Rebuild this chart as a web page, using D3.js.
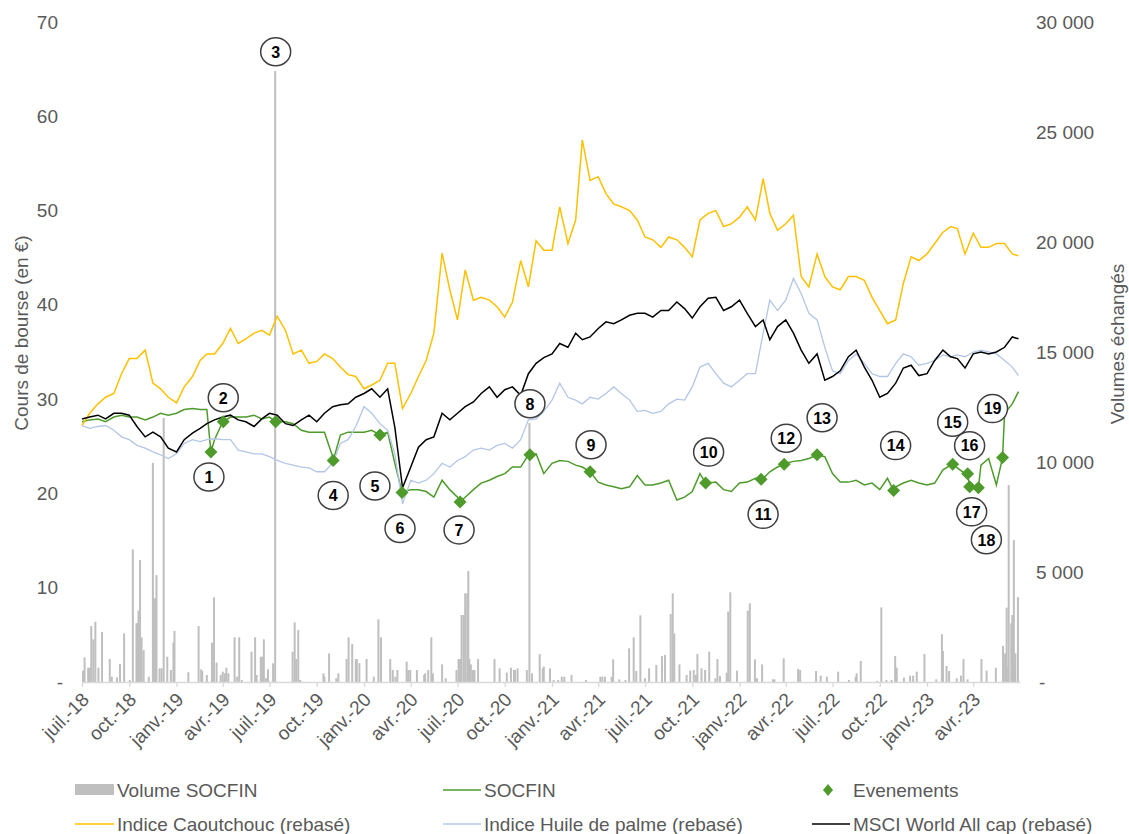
<!DOCTYPE html>
<html><head><meta charset="utf-8">
<script src="https://cdn.jsdelivr.net/npm/d3@7"></script>
<style>
body{margin:0;background:#fff;}
text{font-family:Arial,"Liberation Sans",sans-serif;}
</style>
</head><body>
<svg id="chart" width="1129" height="834"></svg>
<script>
// ---------- DATA ----------
// observation dates: 1st and 16th of each month, July 2018 -> June 2023, plus last quotation
const obsDates = d3.range(120).map(i => new Date(2018, 6 + Math.floor(i / 2), i % 2 ? 16 : 1)).concat([new Date(2023, 5, 28)]);

const socfin = [
  27.6, 27.8, 27.9, 27.6, 28.1, 28.3, 28.1, 28.1, 27.8, 28.1, 28.5, 28.3,
  28.5, 28.9, 29.0, 28.9, 28.9, 25.7, 27.6, 28.1, 28.1, 28.1, 28.3, 27.9,
  28.1, 27.6, 27.6, 27.4, 26.7, 26.5, 26.5, 26.5, 23.9, 26.2, 26.5, 26.5,
  26.5, 26.7, 26.2, 26.5, 23.2, 20.2, 20.4, 20.4, 20.2, 19.6, 21.4, 20.4,
  19.6, 19.6, 20.4, 21.1, 21.4, 21.8, 22.1, 22.8, 22.8, 24.1, 24.2, 22.1,
  23.2, 23.5, 23.4, 23.0, 22.8, 22.3, 21.2, 20.9, 20.7, 20.5, 20.7, 21.9,
  20.9, 20.9, 21.1, 21.4, 19.3, 19.6, 20.2, 22.1, 21.1, 21.2, 20.4, 20.2,
  21.1, 21.2, 21.6, 21.6, 22.3, 22.8, 23.2, 23.4, 23.5, 23.7, 24.1, 23.9,
  22.1, 21.2, 21.2, 21.4, 20.9, 21.1, 20.4, 21.6, 20.7, 21.1, 21.4, 21.1,
  20.9, 21.1, 22.5, 23.0, 22.7, 22.1, 20.7, 23.0, 23.7, 20.9, 28.5, 29.5,
  30.8
];

const caoutchouc = [
  27.2, 28.5, 29.5, 30.2, 30.6, 32.7, 34.3, 34.3, 35.2, 31.7, 31.1, 30.2,
  29.6, 31.3, 32.4, 34.1, 34.8, 34.8, 35.9, 37.5, 35.9, 36.4, 37.0, 37.3,
  36.8, 38.8, 37.3, 34.8, 35.2, 33.8, 34.0, 34.8, 34.3, 33.4, 32.6, 32.4,
  31.1, 31.5, 32.0, 33.8, 33.8, 29.0, 30.6, 32.4, 34.1, 37.0, 45.5, 41.6,
  38.4, 43.7, 40.5, 40.8, 40.5, 39.8, 38.7, 40.3, 44.7, 41.9, 46.8, 45.8,
  45.8, 50.4, 46.5, 49.0, 57.5, 53.2, 53.6, 51.8, 50.7, 50.4, 50.0, 49.0,
  47.2, 46.9, 46.1, 47.2, 46.9, 46.1, 45.1, 49.0, 49.7, 50.0, 48.3, 48.6,
  49.3, 50.4, 49.0, 53.4, 49.7, 47.9, 48.6, 49.5, 43.0, 41.9, 45.4, 43.0,
  41.9, 41.6, 43.0, 43.0, 42.6, 40.8, 39.4, 38.0, 38.4, 42.3, 45.1, 44.7,
  45.4, 46.5, 47.7, 48.3, 48.1, 45.4, 47.6, 46.1, 46.1, 46.5, 46.5, 45.4,
  45.2
];

const huilePalme = [
  27.2, 26.9, 27.1, 27.2, 26.7, 26.0, 25.7, 25.1, 24.8, 24.4, 24.1, 23.7,
  24.2, 25.3, 25.7, 25.5, 25.7, 25.8, 25.7, 25.7, 24.6, 24.4, 24.2, 24.2,
  23.9, 23.5, 23.2, 23.0, 22.8, 22.7, 22.3, 22.3, 23.2, 25.3, 25.7, 27.1,
  29.2, 28.5, 27.4, 26.7, 24.2, 18.9, 21.4, 21.1, 21.4, 22.1, 23.2, 22.8,
  23.5, 23.9, 24.6, 24.8, 24.6, 25.1, 25.3, 24.8, 25.7, 27.8, 27.9, 28.7,
  29.9, 31.7, 30.2, 29.9, 29.5, 30.2, 30.0, 30.6, 31.3, 30.6, 29.9, 28.7,
  28.8, 28.5, 28.7, 29.5, 30.0, 29.9, 31.3, 33.4, 33.8, 32.7, 31.7, 31.3,
  32.0, 32.7, 32.7, 37.0, 40.5, 39.4, 40.5, 42.8, 41.2, 39.1, 38.4, 35.5,
  33.0, 32.7, 34.1, 34.8, 33.8, 32.7, 32.4, 32.4, 33.8, 34.8, 34.5, 33.6,
  33.8, 34.1, 34.7, 34.5, 34.7, 34.5, 35.0, 35.2, 35.0, 34.8, 34.1, 33.4,
  32.5
];

const msciWorld = [
  27.9, 28.1, 28.3, 27.9, 28.5, 28.5, 28.3, 27.1, 26.0, 26.5, 26.0, 24.8,
  24.4, 25.7, 26.4, 26.9, 27.4, 27.8, 28.1, 28.3, 27.8, 27.6, 27.1, 27.9,
  28.5, 28.3, 27.4, 27.2, 27.8, 28.3, 27.6, 28.5, 29.2, 29.4, 29.5, 30.2,
  30.6, 31.1, 30.2, 31.1, 27.0, 20.6, 22.8, 24.9, 25.7, 26.0, 28.5, 27.8,
  28.5, 29.2, 29.7, 30.6, 31.3, 30.2, 31.0, 31.3, 30.4, 32.7, 33.8, 34.4,
  34.8, 35.9, 35.5, 37.0, 36.3, 36.6, 37.5, 38.2, 38.0, 38.4, 38.9, 39.1,
  39.1, 38.7, 39.4, 39.4, 40.3, 39.6, 38.6, 39.8, 40.7, 40.8, 39.4, 39.8,
  40.5, 39.1, 37.7, 38.4, 36.3, 37.7, 38.4, 37.0, 35.2, 33.8, 34.8, 32.0,
  32.4, 33.0, 34.5, 35.2, 33.4, 32.0, 30.2, 30.6, 31.7, 33.3, 33.6, 32.5,
  32.7, 34.1, 35.2, 34.5, 34.3, 33.3, 34.8, 35.0, 34.8, 35.0, 35.5, 36.6,
  36.4
];

const eventLabels = [1,2,3,4,5,6,7,8,9,10,11,12,13,14,15,16,17,18,19];
const eventDates = ["2019-03-09","2019-04-02","2019-07-13","2019-11-02","2020-02-01","2020-03-15","2020-07-06",
  "2020-11-19","2021-03-16","2021-10-27","2022-02-12","2022-03-29","2022-06-01","2022-10-28","2023-02-20",
  "2023-03-21","2023-03-25","2023-04-11","2023-05-28"];
const eventValues = [24.4,27.6,27.6,23.5,26.2,20.1,19.1,24.1,22.3,21.1,21.5,23.1,24.1,20.3,23.1,22.1,20.7,20.6,23.8];

const volumeSOCFIN = [
  ["2018-07-03",515],["2018-07-06",1120],["2018-07-13",650],["2018-07-16",650],["2018-07-19",2545],["2018-07-23",1940],
  ["2018-07-27",2740],["2018-08-02",650],["2018-08-09",2270],["2018-08-24",1045],["2018-08-28",240],["2018-09-07",210],
  ["2018-09-13",820],["2018-09-21",2210],["2018-10-02",90],["2018-10-08",6030],["2018-10-15",2670],["2018-10-17",2670],
  ["2018-10-19",3240],["2018-10-22",5545],["2018-10-25",2030],["2018-10-29",1450],["2018-11-08",240],["2018-11-16",9955],
  ["2018-11-19",3800],["2018-11-21",3800],["2018-11-23",4860],["2018-11-29",620],["2018-12-03",620],["2018-12-07",12000],
  ["2018-12-14",1150],["2018-12-21",545],["2018-12-26",1790],["2018-12-28",2320],
  ["2019-01-24",440],["2019-02-13",2545],["2019-02-18",575],["2019-02-20",500],["2019-03-01",320],["2019-03-11",1790],
  ["2019-03-13",770],["2019-03-15",3850],["2019-03-20",880],["2019-03-28",320],["2019-04-01",470],["2019-04-05",395],
  ["2019-04-08",650],["2019-04-12",395],["2019-04-24",2030],["2019-04-29",240],["2019-05-03",2030],["2019-05-08",90],
  ["2019-05-27",1380],["2019-06-03",2030],["2019-06-06",320],["2019-06-14",1150],["2019-06-17",1150],["2019-06-20",1940],
  ["2019-06-24",170],["2019-06-28",575],["2019-07-08",850],["2019-07-12",27770],["2019-08-15",1380],["2019-08-19",2710],
  ["2019-08-22",1045],["2019-08-26",2360],["2019-08-30",90],["2019-10-14",395],["2019-10-16",240],["2019-10-25",1300],
  ["2019-11-08",170],["2019-11-12",395],["2019-11-28",1045],["2019-12-02",2030],["2019-12-09",1730],["2019-12-16",1045],
  ["2019-12-18",1045],["2019-12-23",850],
  ["2020-01-06",1045],["2020-01-20",240],["2020-01-29",2850],["2020-02-03",2030],["2020-02-21",1045],["2020-02-26",545],
  ["2020-03-02",240],["2020-03-06",545],["2020-03-24",925],["2020-03-27",545],["2020-03-31",545],["2020-04-13",545],
  ["2020-04-27",320],["2020-04-29",395],["2020-05-05",545],["2020-05-11",2030],["2020-05-14",395],["2020-06-01",800],
  ["2020-06-08",170],["2020-06-29",545],["2020-07-03",1045],["2020-07-06",1045],["2020-07-09",3045],["2020-07-13",3045],
  ["2020-07-16",4030],["2020-07-20",4030],["2020-07-22",5045],["2020-07-24",1045],["2020-07-27",800],["2020-07-31",545],
  ["2020-08-03",545],["2020-08-10",1045],["2020-09-11",1045],["2020-09-21",620],["2020-10-05",425],["2020-10-13",650],
  ["2020-10-19",545],["2020-10-21",545],["2020-10-26",620],["2020-11-13",545],["2020-11-18",11770],["2020-11-23",395],
  ["2020-12-08",1270],["2020-12-14",620],["2020-12-16",700],["2020-12-28",620],
  ["2021-01-04",90],["2021-01-13",90],["2021-01-20",240],["2021-01-25",240],["2021-02-08",320],["2021-03-08",90],
  ["2021-04-05",240],["2021-04-09",240],["2021-04-14",240],["2021-04-27",240],["2021-04-30",1030],["2021-05-12",120],
  ["2021-05-24",90],["2021-05-31",1530],["2021-06-09",2030],["2021-06-14",500],["2021-06-22",3030],["2021-07-01",170],
  ["2021-07-09",620],["2021-07-23",770],["2021-08-03",1180],["2021-08-09",1230],["2021-08-20",3090],["2021-08-24",4030],
  ["2021-08-27",2210],["2021-09-06",800],["2021-09-20",320],["2021-09-27",515],["2021-10-04",545],["2021-10-08",320],
  ["2021-10-11",1270],["2021-10-19",620],["2021-10-26",545],["2021-11-03",1380],["2021-11-15",170],["2021-11-19",1045],
  ["2021-11-24",270],["2021-12-07",425],["2021-12-10",3200],["2021-12-14",4075],["2021-12-27",515],
  ["2022-01-17",3240],["2022-01-21",3575],["2022-01-31",1030],["2022-02-04",170],["2022-02-14",800],["2022-03-07",120],
  ["2022-03-10",120],["2022-03-28",1075],["2022-04-25",590],["2022-04-29",545],["2022-05-30",500],["2022-06-08",290],
  ["2022-06-20",240],["2022-07-12",470],["2022-08-02",90],["2022-08-15",240],["2022-08-17",395],["2022-08-25",955],
  ["2022-09-26",50],["2022-10-04",3390],["2022-10-14",90],["2022-10-24",90],["2022-10-31",1180],["2022-11-03",650],
  ["2022-11-17",200],["2022-11-29",290],["2022-12-05",290],["2022-12-12",470],["2022-12-27",1270],
  ["2023-01-19",120],["2023-01-30",2170],["2023-02-01",1410],["2023-02-08",730],["2023-02-13",500],["2023-02-28",170],
  ["2023-03-08",290],["2023-03-13",1045],["2023-03-21",120],["2023-04-17",1045],["2023-04-27",515],["2023-05-15",650],
  ["2023-05-29",1640],["2023-06-02",1300],["2023-06-05",3380],["2023-06-08",700],["2023-06-09",8950],["2023-06-14",2670],
  ["2023-06-16",3045],["2023-06-19",6450],["2023-06-21",1000],["2023-06-22",1300],["2023-06-27",3860]
];

const leftTicks = [0,10,20,30,40,50,60,70];
const rightTicks = [0,5000,10000,15000,20000,25000,30000];
const moisFr = ["janv.","févr.","mars","avr.","mai","juin","juil.","août","sept.","oct.","nov.","déc."];

// label placement (pixel offsets of each event bubble relative to its marker)
const labelOffsets = [[-2,25],[0,-24],[0,-370],[0,35],[-5,51],[-2,36],[-1,28],[0,-51],[1,-27],[3,-31],
  [2,35],[2,-26],[5,-37],[2,-45],[0,-42],[2,-28],[2,25],[8,52],[-10,-49]];

// ---------- CHART ----------
const svg = d3.select("#chart");
const parse = d3.timeParse("%Y-%m-%d");
const x = d3.scaleTime().domain([new Date(2018,6,1), new Date(2023,6,1)]).range([82,1020]);
const yL = d3.scaleLinear().domain([0,70]).range([682,22]);
const yR = d3.scaleLinear().domain([0,30000]).range([682,22]);
const grey = "#595959";
const fs = 19;

const C = {vol:"#BFBFBF", socfin:"#4E9B2C", caout:"#FFC000", huile:"#B4C6E7", msci:"#000000", event:"#4E9B2C"};

// volumes
svg.append("g").selectAll("rect").data(volumeSOCFIN).join("rect")
  .attr("x", d => x(parse(d[0])) - 1).attr("width", 2)
  .attr("y", d => yR(d[1])).attr("height", d => yR(0) - yR(d[1]))
  .attr("fill", C.vol);

// x axis
const tickDates = d3.timeMonth.every(3).range(new Date(2018,6,1), new Date(2023,6,1));
const xAxis = d3.axisBottom(x).tickValues(tickDates).tickSize(5).tickSizeOuter(0)
  .tickFormat(d => moisFr[d.getMonth()] + "-" + String(d.getFullYear()).slice(2));
const gx = svg.append("g").attr("transform","translate(0,682)").call(xAxis);
gx.select(".domain").attr("stroke","#D9D9D9").attr("stroke-width",1.3);
gx.selectAll(".tick line").attr("stroke","#D9D9D9").attr("stroke-width",1.3);
gx.selectAll(".tick text").attr("x",0).attr("y",0).attr("dy","0.35em")
  .attr("text-anchor","end").attr("transform","translate(3,14) rotate(-45)")
  .attr("fill",grey).attr("font-size",fs).attr("font-family","Arial, 'Liberation Sans', sans-serif");

// left axis
const gl = svg.append("g").attr("transform","translate(58,0)")
  .call(d3.axisLeft(yL).tickValues(leftTicks).tickSize(0).tickPadding(0).tickFormat(d => d === 0 ? "-" : d));
gl.select(".domain").remove();
gl.selectAll(".tick text").attr("fill",grey).attr("font-size",fs).attr("font-family","Arial, 'Liberation Sans', sans-serif")
  .attr("x", d => d === 0 ? 5 : 0);

// right axis
const frLocale = d3.formatLocale({decimal:",", thousands:" ", grouping:[3], currency:["","€"]});
const fmtR = frLocale.format(",");
const gr = svg.append("g").attr("transform","translate(1036,0)")
  .call(d3.axisRight(yR).tickValues(rightTicks).tickSize(0).tickPadding(0).tickFormat(d => d === 0 ? "-" : fmtR(d)));
gr.select(".domain").remove();
gr.selectAll(".tick text").attr("fill",grey).attr("font-size",fs).attr("font-family","Arial, 'Liberation Sans', sans-serif")
  .attr("x", d => d === 0 ? 3 : 0);

// axis titles
svg.append("text").attr("transform","translate(28,333) rotate(-90)").attr("text-anchor","middle")
  .attr("fill",grey).attr("font-size",fs).text("Cours de bourse (en €)");
svg.append("text").attr("transform","translate(1124,344) rotate(-90)").attr("text-anchor","middle")
  .attr("fill",grey).attr("font-size",fs).text("Volumes échangés");

// lines
const events = eventDates.map((d,i) => ({date: parse(d), value: eventValues[i], label: eventLabels[i], off: labelOffsets[i]}));
const series = (vals) => obsDates.map((d,i) => ({date: d, value: vals[i]}));
const socfinPts = series(socfin).concat(events.map(e => ({date: e.date, value: e.value})))
  .sort((a,b) => a.date - b.date);
const line = d3.line().x(d => x(d.date)).y(d => yL(d.value));

svg.append("path").datum(socfinPts).attr("d", line).attr("fill","none").attr("stroke",C.socfin).attr("stroke-width",1.5);
svg.append("path").datum(series(caoutchouc)).attr("d", line).attr("fill","none").attr("stroke",C.caout).attr("stroke-width",1.5);
svg.append("path").datum(series(huilePalme)).attr("d", line).attr("fill","none").attr("stroke",C.huile).attr("stroke-width",1.3);
svg.append("path").datum(series(msciWorld)).attr("d", line).attr("fill","none").attr("stroke",C.msci).attr("stroke-width",1.5);

// event markers
const diamond = "M0,-6.5L6.5,0L0,6.5L-6.5,0Z";
svg.append("g").selectAll("path").data(events).join("path")
  .attr("d", diamond).attr("transform", d => `translate(${x(d.date)},${yL(d.value)})`).attr("fill", C.event);

// event bubbles
const lab = svg.append("g").selectAll("g").data(events).join("g")
  .attr("transform", d => `translate(${x(d.date) + d.off[0]},${yL(d.value) + d.off[1]})`);
lab.append("ellipse").attr("rx",15).attr("ry",14).attr("fill","#fff").attr("stroke","#404040").attr("stroke-width",1.5);
lab.append("text").attr("text-anchor","middle").attr("dy","0.36em").attr("font-size",16).attr("font-weight","bold")
  .attr("fill","#000").text(d => d.label);

// legend
const leg = svg.append("g").attr("fill",grey).attr("font-size",19);
leg.append("rect").attr("x",75).attr("y",784).attr("width",39).attr("height",11).attr("fill",C.vol);
leg.append("text").attr("x",117).attr("y",790).attr("dy","0.35em").text("Volume SOCFIN");
leg.append("line").attr("x1",443).attr("x2",481).attr("y1",790).attr("y2",790).attr("stroke",C.socfin).attr("stroke-width",1.5);
leg.append("text").attr("x",484).attr("y",790).attr("dy","0.35em").text("SOCFIN");
leg.append("path").attr("d","M0,-6L5,0L0,6L-5,0Z").attr("transform","translate(828,790)").attr("fill",C.event);
leg.append("text").attr("x",853).attr("y",790).attr("dy","0.35em").text("Evenements");
leg.append("line").attr("x1",75).attr("x2",114).attr("y1",824).attr("y2",824).attr("stroke",C.caout).attr("stroke-width",1.5);
leg.append("text").attr("x",117).attr("y",824).attr("dy","0.35em").text("Indice Caoutchouc (rebasé)");
leg.append("line").attr("x1",443).attr("x2",481).attr("y1",824).attr("y2",824).attr("stroke",C.huile).attr("stroke-width",1.5);
leg.append("text").attr("x",484).attr("y",824).attr("dy","0.35em").text("Indice Huile de palme (rebasé)");
leg.append("line").attr("x1",812).attr("x2",850).attr("y1",824).attr("y2",824).attr("stroke",C.msci).attr("stroke-width",1.5);
leg.append("text").attr("x",853).attr("y",824).attr("dy","0.35em").text("MSCI World All cap (rebasé)");
</script>
</body></html>
